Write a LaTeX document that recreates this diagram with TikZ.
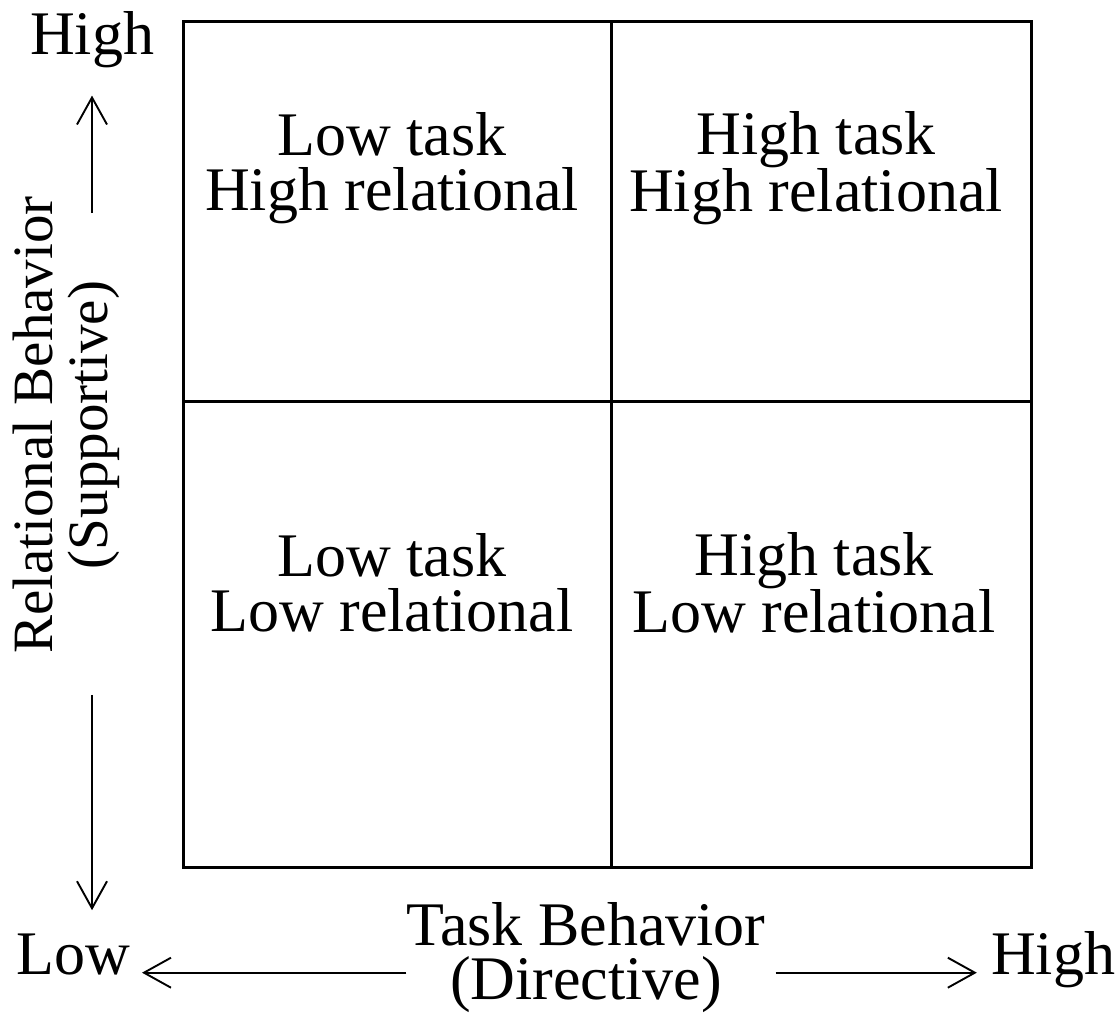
\documentclass[tikz,border=0pt]{standalone}
\usepackage{fontspec}
\setmainfont{Liberation Serif}
\usetikzlibrary{arrows.meta}
\tikzstyle{quad} = [align=center, inner sep=0pt, font=\fontsize{62}{55}\selectfont]
\tikzstyle{axislabel} = [align=center, inner sep=0pt, font=\fontsize{62}{54}\selectfont]
\tikzstyle{frame} = [line width=3pt]
\tikzstyle{arrow} = [line width=1.9pt, -{Straight Barb[length=27pt,width=30pt,line width=1.9pt]}]

\begin{document}
\begin{tikzpicture}[x=1pt, y=1pt]
\useasboundingbox (0,0) rectangle (1119,1019);

% the grid
\coordinate (sw) at (183,151);
\coordinate (ne) at (1031,997);
\coordinate (mid) at (611,617);
\draw [frame] (sw) rectangle (ne);
\draw [frame] (sw -| mid) -- (ne -| mid);
\draw [frame] (sw |- mid) -- (ne |- mid);

\node (lowhigh) [quad] at (392,851) {Low task\\High relational};
\node (highhigh) [quad] at (816,851) {High task\\High relational};
\node (lowlow) [quad] at (392,436) {Low task\\Low relational};
\node (highlow) [quad] at (814,436) {High task\\Low relational};

% axis labels
\node (hightop) [axislabel, anchor=base] at (92,964) {High};
\node (low) [axislabel, anchor=base] at (73,44) {Low};
\node (highright) [axislabel, anchor=base] at (1053,44) {High};
\node (task) [axislabel] at (586,61) {Task Behavior\\(Directive)};
\node (relation) [axislabel, rotate=90, font=\fontsize{57}{55}\selectfont] at (66,594) {Relational Behavior\\(Supportive)};

\draw [arrow, shorten <=-17pt, shorten >=27pt] (relation.east -| hightop.south) -- (hightop.south);
\draw [arrow, shorten <=41pt, shorten >=24pt] (relation.west -| hightop.south) -- (low.north -| hightop.south);
\draw [arrow, shorten >=12pt] (task.west |- low.mid) -- (low.mid east);
\draw [arrow, shorten <=10pt, shorten >=14pt] (task.east |- highright.mid) -- (highright.mid west);

\end{tikzpicture}
\end{document}
